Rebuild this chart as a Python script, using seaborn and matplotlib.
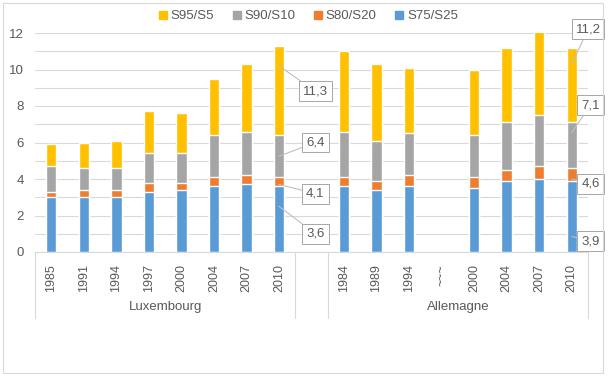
import matplotlib
matplotlib.use("Agg")
import matplotlib.pyplot as plt
import matplotlib.patches as mpatches
from matplotlib.lines import Line2D
import seaborn as sns
import pandas as pd

# ---- data ----
lux_years = ["1985", "1991", "1994", "1997", "2000", "2004", "2007", "2010"]
all_years = ["1984", "1989", "1994", "~~~", "2000", "2004", "2007", "2010"]
groups = ["Luxembourg", "Allemagne"]

lux_s95 = [5.9, 6.0, 6.1, 7.7, 7.6, 9.5, 10.3, 11.3]
lux_s90 = [4.7, 4.6, 4.6, 5.4, 5.4, 6.4, 6.6, 6.4]
lux_s80 = [3.3, 3.4, 3.4, 3.8, 3.8, 4.1, 4.2, 4.1]
lux_s75 = [3.0, 3.0, 3.0, 3.3, 3.4, 3.6, 3.7, 3.6]

all_s95 = [11.0, 10.3, 10.1, None, 10.0, 11.2, 12.1, 11.2]
all_s90 = [6.6, 6.1, 6.5, None, 6.4, 7.1, 7.5, 7.1]
all_s80 = [4.1, 3.9, 4.2, None, 4.1, 4.5, 4.7, 4.6]
all_s75 = [3.6, 3.4, 3.6, None, 3.5, 3.9, 4.0, 3.9]

series_names = ["S95/S5", "S90/S10", "S80/S20", "S75/S25"]
colors = ["#FFC000", "#A5A5A5", "#ED7D31", "#5B9BD5"]

# ---- build table ----
keys = [f"L{y}" for y in lux_years] + ["gap"] + [f"A{i}" for i in range(len(all_years))]
labels = lux_years + [""] + all_years
rows = []
lux_vals = [lux_s95, lux_s90, lux_s80, lux_s75]
all_vals = [all_s95, all_s90, all_s80, all_s75]
for s, name in enumerate(series_names):
    for i, y in enumerate(lux_years):
        rows.append(dict(key=f"L{y}", series=name, value=lux_vals[s][i]))
    for i in range(len(all_years)):
        v = all_vals[s][i]
        if v is not None:
            rows.append(dict(key=f"A{i}", series=name, value=v))
df = pd.DataFrame(rows)

sns.set_style("white")
plt.rcParams["font.family"] = ["Liberation Sans", "DejaVu Sans"]
txt = "#595959"

fig = plt.figure(figsize=(6.08, 3.8), dpi=100)
ax = fig.add_axes([35 / 608, 128 / 380, 553 / 608, 219 / 380])

for name, col in zip(series_names, colors):
    sub = df[df.series == name]
    sns.barplot(data=sub, x="key", y="value", order=keys, color=col,
                width=0.32, saturation=1, ax=ax, errorbar=None, zorder=3)

ax.set_xlim(-0.5, len(keys) - 0.5)
ax.set_ylim(0, 12)
ax.set_yticks(range(0, 13, 2))
ax.set_yticks(range(0, 13), minor=True)
ax.grid(axis="y", which="both", color="#D9D9D9", lw=0.8, zorder=0)
ax.set_axisbelow(True)
for sp in ["left", "right", "top"]:
    ax.spines[sp].set_visible(False)
ax.spines["bottom"].set_color("#D9D9D9")
ax.set_xlabel("")
ax.set_ylabel("")
ax.set_xticks(range(len(keys)))
ax.set_xticklabels(labels, rotation=90, fontsize=9, color=txt)
ax.tick_params(axis="x", length=0, pad=9)
ax.tick_params(axis="y", length=0, pad=8, labelsize=9.5, labelcolor=txt)

# group separators and labels
xt = ax.get_xaxis_transform()
n_l = len(lux_years)
bounds = [(-0.5, n_l - 0.5), (n_l + 0.5, len(keys) - 0.5)]
for (a, b), g in zip(bounds, groups):
    for xv in (a, b):
        ax.plot([xv, xv], [0, -0.30], transform=xt, color="#D9D9D9", lw=0.8, clip_on=False)
    ax.text((a + b) / 2, -0.25, g, transform=xt, ha="center", va="center", fontsize=9.5, color=txt)

# callout labels
bbox = dict(boxstyle="square,pad=0.3", fc="white", ec="#A6A6A6", lw=0.7)
arrow = dict(arrowstyle="-", color="#BFBFBF", lw=0.8, shrinkA=0, shrinkB=0)
callouts = [
    (n_l - 1, lux_s95[-1], -1.1, 1.12, -2.5),
    (n_l - 1, lux_s90[-1], -1.15, 1.12, -0.4),
    (n_l - 1, lux_s80[-1], -0.4, 1.12, -0.9),
    (n_l - 1, lux_s75[-1], -1.1, 1.12, -2.6),
    (len(keys) - 1, all_s95[-1], -0.9, 0.5, 1.0),
    (len(keys) - 1, all_s90[-1], -0.55, 0.58, 0.95),
    (len(keys) - 1, all_s80[-1], -0.6, 0.58, -0.85),
    (len(keys) - 1, all_s75[-1], -3.05, 0.58, -3.3),
]
for xi, v, drop, dx, dy in callouts:
    ax.annotate(f"{v:.1f}".replace(".", ","), xy=(xi, v + drop), xytext=(xi + dx, v + dy),
                ha="center", va="center", fontsize=9.5, color=txt, bbox=bbox,
                arrowprops=arrow, annotation_clip=False, zorder=5)

# legend
handles = [Line2D([], [], marker="s", ls="", color=c, markersize=6) for c in colors]
fig.legend(handles, series_names, loc="center", bbox_to_anchor=(0.505, 0.957), ncol=4,
           frameon=False, fontsize=9.5, handletextpad=0.1, columnspacing=1.2,
           labelcolor=txt, handlelength=1.0)

# chart border
fig.patches.append(mpatches.Rectangle((3 / 608, 7 / 380), 600 / 608, 370 / 380,
                                      transform=fig.transFigure, fill=False,
                                      ec="#D9D9D9", lw=0.8))

fig.savefig("out.png", dpi=100)
